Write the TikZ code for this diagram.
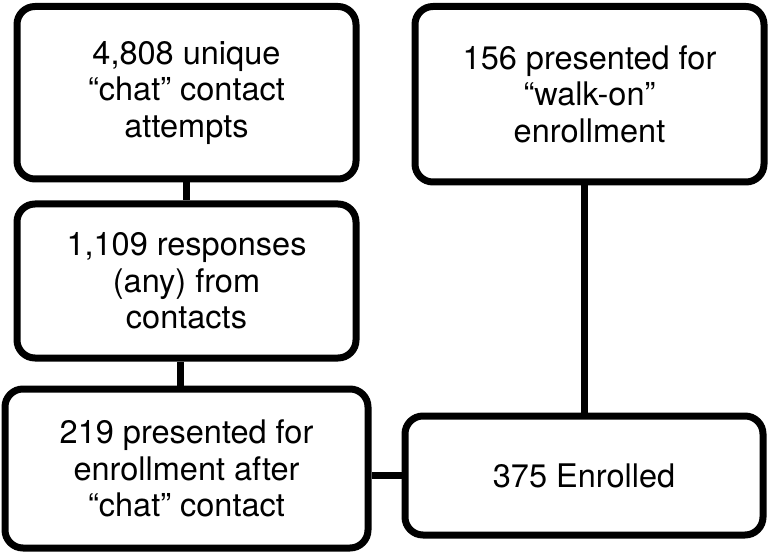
\documentclass[tikz,border=0pt]{standalone}
\usepackage{fontspec}
\setmainfont{TeX Gyre Heros}
\begin{document}
\begin{tikzpicture}[x=1pt,y=-1pt,
  flowbox/.style={draw=black,line width=7pt,rounded corners=18pt,inner sep=0pt,
    align=center,font=\fontsize{32.5}{36.5}\selectfont,anchor=center},
  link/.style={draw=black,line width=7pt}]
\useasboundingbox (0,0) rectangle (771,553);
\node[flowbox,minimum width=339pt,minimum height=172.5pt] (b1) at (186.5,92.75)
  {4,808 unique\\``chat'' contact\\attempts};
\node[flowbox,minimum width=339pt,minimum height=154pt] (b2) at (186.5,281)
  {1,109 responses\\(any) from\\contacts};
\node[flowbox,minimum width=363pt,minimum height=159pt] (b3) at (186.5,468.5)
  {219 presented for\\enrollment after\\``chat'' contact};
\node[flowbox,minimum width=358pt,minimum height=119pt] (b4) at (584,475.5)
  {375 Enrolled};
\node[flowbox,minimum width=349pt,minimum height=175.5pt] (b5) at (589.5,94.25)
  {156 presented for\\``walk-on''\\enrollment};
\draw[link] (b1.south) -- (b2.north);
\draw[link] ([xshift=-6.5pt]b2.south) -- ([xshift=-6.5pt]b2.south |- b3.north);
\draw[link] (b4.west) -- (b4.west -| b3.east);
\draw[link] (b4.north) -- (b4.north |- b5.south);
\end{tikzpicture}
\end{document}
